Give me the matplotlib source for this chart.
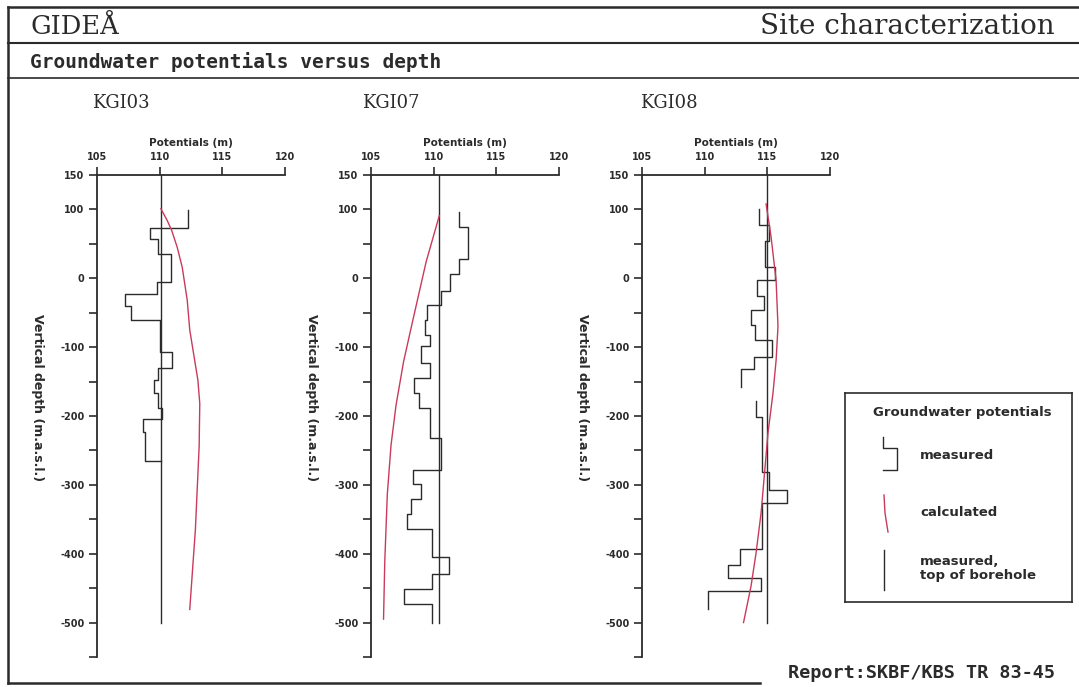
import numpy as np
import matplotlib.pyplot as plt
from matplotlib.lines import Line2D

W, H = 1079, 687

# ---- data (potential in m, depth in m.a.s.l.) ----
boreholes = ["KGI03", "KGI07", "KGI08"]

# measured potentials, step profile: (depth, potential) vertices
kgi03_meas_depth = [99, 73, 73, 57, 57, 35, 35, -5, -5, -23, -23, -40, -40, -61, -61,
                    -107, -107, -130, -130, -147, -147, -167, -167, -188, -188,
                    -205, -205, -223, -223, -265, -265]
kgi03_meas_pot = [112.25, 112.25, 109.2, 109.2, 109.86, 109.86, 110.9, 110.9, 109.8, 109.8,
                  107.27, 107.27, 107.7, 107.7, 110.0, 110.0, 111.0, 111.0, 109.86, 109.86,
                  109.57, 109.57, 109.86, 109.86, 110.2, 110.2, 108.65, 108.65, 108.8, 108.8,
                  110.1]

kgi07_meas_depth = [96, 74, 74, 28, 28, 6, 6, -18, -18, -39, -39, -60, -60, -82, -82,
                    -99, -99, -123, -123, -145, -145, -167, -167, -188, -188, -232, -232,
                    -278, -278, -299, -299, -321, -321, -343, -343, -364, -364, -405, -405,
                    -429, -429, -451, -451, -473, -473, -500]
kgi07_meas_pot = [112.0, 112.0, 112.7, 112.7, 112.0, 112.0, 111.3, 111.3, 110.6, 110.6,
                  109.5, 109.5, 109.3, 109.3, 109.7, 109.7, 109.0, 109.0, 109.7, 109.7,
                  108.4, 108.4, 108.8, 108.8, 109.7, 109.7, 110.6, 110.6, 108.35, 108.35,
                  109.0, 109.0, 108.2, 108.2, 107.9, 107.9, 109.9, 109.9, 111.25, 111.25,
                  109.9, 109.9, 107.6, 107.6, 109.9, 109.9]

kgi08_meas_depth = [100, 78, 78, 54, 54, 16, 16, -2, -2, -26, -26, -46, -46, -68, -68,
                    -90, -90, -114, -114, -132, -132, -158, np.nan,
                    -178, -202, -202, -282, -282, -307, -307, -326, -326, -393, -393,
                    -417, -417, -435, -435, -454, -454, -480]
kgi08_meas_pot = [114.3, 114.3, 115.1, 115.1, 114.8, 114.8, 115.6, 115.6, 114.2, 114.2,
                  114.7, 114.7, 113.7, 113.7, 114.05, 114.05, 115.4, 115.4, 113.9, 113.9,
                  112.9, 112.9, np.nan,
                  114.1, 114.1, 114.6, 114.6, 115.1, 115.1, 116.6, 116.6, 114.6, 114.6,
                  112.8, 112.8, 111.9, 111.9, 114.5, 114.5, 110.3, 110.3]

# calculated potentials
kgi03_calc_depth = [101, 84, 70, 45, 16, -32, -75, -148, -182, -244, -365, -481]
kgi03_calc_pot = [110.1, 110.6, 110.95, 111.4, 111.8, 112.2, 112.4, 113.05, 113.2, 113.15,
                  112.85, 112.4]

kgi07_calc_depth = [91, 24, -72, -121, -184, -242, -314, -411, -495]
kgi07_calc_pot = [110.45, 109.4, 108.2, 107.6, 107.0, 106.6, 106.3, 106.1, 106.0]

kgi08_calc_depth = [108, 60, -3, -70, -119, -167, -225, -278, -341, -399, -447, -500]
kgi08_calc_pot = [114.9, 115.3, 115.7, 115.85, 115.7, 115.45, 115.05, 114.8, 114.5, 114.1,
                  113.7, 113.1]

# measured potential at top of borehole (vertical reference line)
top_pot = [110.1, 110.45, 115.0]
top_line_depth = [150, -500]

x_ticks = [105, 110, 115, 120]
y_major = [150, 100, 0, -100, -200, -300, -400, -500]
y_all = list(range(150, -551, -50))

meas = [(kgi03_meas_depth, kgi03_meas_pot), (kgi07_meas_depth, kgi07_meas_pot),
        (kgi08_meas_depth, kgi08_meas_pot)]
calc = [(kgi03_calc_depth, kgi03_calc_pot), (kgi07_calc_depth, kgi07_calc_pot),
        (kgi08_calc_depth, kgi08_calc_pot)]

INK = "#2b2b2b"
RED = "#c93a5c"


def fx(x):
    return x / W


def fy(y):
    return 1 - y / H


fig = plt.figure(figsize=(W / 100, H / 100), dpi=100)

# frame lines of the sheet
frame = fig.add_axes([0, 0, 1, 1], zorder=-1)
frame.set_xlim(0, W)
frame.set_ylim(H, 0)
frame.axis("off")
frame.plot([8, 8], [7, 683], color=INK, lw=1.8)
frame.plot([8, W], [7, 7], color=INK, lw=1.8)
frame.plot([8, W], [43, 43], color=INK, lw=1.5)
frame.plot([8, W], [78, 78], color=INK, lw=1.2)
frame.plot([8, 760], [683, 683], color=INK, lw=1.8)

fig.text(fx(30), fy(26), "GIDEÅ", family="DejaVu Serif", fontsize=18.5, color=INK,
         va="center", ha="left")
fig.text(fx(1055), fy(27), "Site characterization", family="DejaVu Serif", fontsize=20,
         color=INK, va="center", ha="right")
fig.text(fx(30), fy(62), "Groundwater potentials versus depth", family="DejaVu Sans Mono",
         fontweight="bold", fontsize=14, color=INK, va="center", ha="left")
fig.text(fx(1055), fy(673), "Report:SKBF/KBS TR 83-45", family="DejaVu Sans Mono",
         fontweight="bold", fontsize=13.3, color=INK, va="center", ha="right")

lefts = [97, 371, 642]
title_x = [92, 362, 640]
top_px, bot_px, width_px = 175, 657, 188

for i, name in enumerate(boreholes):
    ax = fig.add_axes([fx(lefts[i]), fy(bot_px), width_px / W, (bot_px - top_px) / H])
    ax.set_xlim(105, 120)
    ax.set_ylim(-550, 150)
    for s in ["right", "bottom"]:
        ax.spines[s].set_visible(False)
    for s in ["left", "top"]:
        ax.spines[s].set_color(INK)
        ax.spines[s].set_linewidth(1.3)
    ax.xaxis.tick_top()
    ax.xaxis.set_label_position("top")
    ax.set_xticks(x_ticks)
    ax.set_xticklabels([str(v) for v in x_ticks])
    ax.set_yticks(y_all)
    ax.set_yticklabels([str(v) if v in y_major else "" for v in y_all])
    ax.tick_params(axis="both", direction="out", length=6, width=1.2, color=INK,
                   labelsize=7, labelcolor=INK, pad=3)
    for lab in ax.get_xticklabels() + ax.get_yticklabels():
        lab.set_fontweight("bold")
    ax.set_xlabel("Potentials (m)", fontsize=7.5, fontweight="bold", color=INK, labelpad=5)
    ax.set_ylabel("Vertical depth (m.a.s.l.)", fontsize=9, fontweight="bold", color=INK,
                  rotation=270, va="center")
    ax.yaxis.set_label_coords(-0.314, 0.538)
    ax.patch.set_alpha(0)

    d, p = meas[i]
    ax.plot(p, d, color=INK, lw=1.0)
    ax.plot([top_pot[i]] * 2, top_line_depth, color=INK, lw=1.0)
    d, p = calc[i]
    ax.plot(p, d, color=RED, lw=1.0)

    fig.text(fx(title_x[i]), fy(103), name, family="DejaVu Serif", fontsize=13,
             color=INK, va="center", ha="left")

# legend box
lx0, ly0, lx1, ly1 = 845, 393, 1072, 602
lg = fig.add_axes([fx(lx0), fy(ly1), (lx1 - lx0) / W, (ly1 - ly0) / H])
lg.set_xlim(lx0, lx1)
lg.set_ylim(ly1, ly0)
lg.set_xticks([])
lg.set_yticks([])
for s in lg.spines.values():
    s.set_color(INK)
    s.set_linewidth(1.2)
lg.text(962, 412, "Groundwater potentials", fontsize=9.5, fontweight="bold", color=INK,
        ha="center", va="center")
lg.add_line(Line2D([883, 883, 897, 897, 883], [437, 448, 448, 470, 470], color=INK, lw=1.0))
lg.text(920, 455, "measured", fontsize=9.5, fontweight="bold", color=INK, va="center")
lg.add_line(Line2D([884, 885, 888], [495, 513, 532], color=RED, lw=1.0))
lg.text(920, 512, "calculated", fontsize=9.5, fontweight="bold", color=INK, va="center")
lg.add_line(Line2D([884, 884], [550, 590], color=INK, lw=1.0))
lg.text(920, 568, "measured,\ntop of borehole", fontsize=9.5, fontweight="bold", color=INK,
        va="center", linespacing=1.1)

fig.savefig("out.png", dpi=100)
